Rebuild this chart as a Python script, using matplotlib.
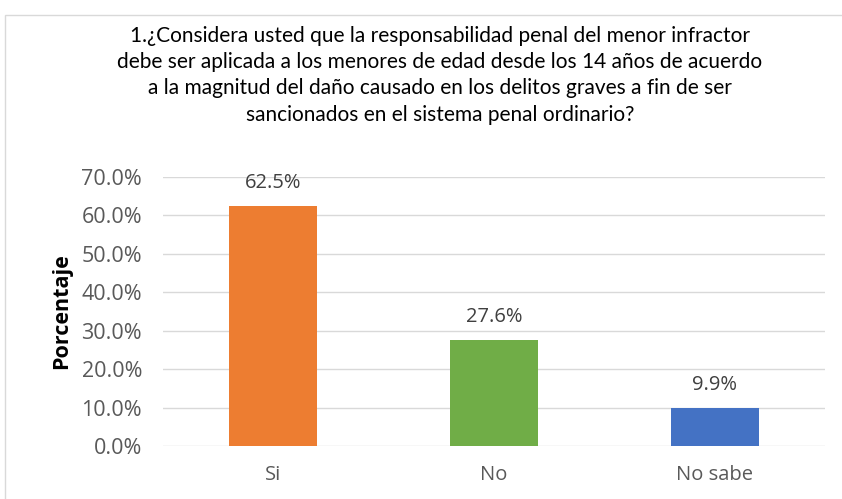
import matplotlib.pyplot as plt
from matplotlib.patches import Rectangle

categories = ["Si", "No", "No sabe"]
values = [62.5, 27.6, 9.9]
colors = ["#ED7D31", "#70AD47", "#4472C4"]
yticks = [0, 10, 20, 30, 40, 50, 60, 70]

title = ("1.¿Considera usted que la responsabilidad penal del menor infractor\n"
         "debe ser aplicada a los menores de edad desde los 14 años de acuerdo\n"
         "a la magnitud del daño causado en los delitos graves a fin de ser\n"
         "sancionados en el sistema penal ordinario?")

plt.rcParams['font.family'] = ['Open Sans', 'DejaVu Sans']

fig = plt.figure(figsize=(8.42, 4.99), dpi=100)
ax = fig.add_axes([163 / 842, 1 - 446 / 499, (825 - 163) / 842, (446 - 177) / 499])

ax.bar(range(len(categories)), values, width=0.4, color=colors, zorder=3)
for i, v in enumerate(values):
    ax.text(i, v + 6.0, f"{v:.1f}%", ha="center", va="center", fontsize=14.5, color="#404040")

ax.set_xlim(-0.5, len(categories) - 0.5)
ax.set_ylim(0, 70)
ax.set_yticks(yticks)
ax.set_yticklabels([f"{t:.1f}%" for t in yticks], fontsize=15.5, color="#595959")
ax.set_xticks(range(len(categories)))
ax.set_xticklabels(categories, fontsize=14.5, color="#595959")
ax.tick_params(length=0)
ax.tick_params(axis="y", pad=15)
ax.tick_params(axis="x", pad=14)
ax.grid(axis="y", color="#D9D9D9", linewidth=1, zorder=0)
for s in ax.spines.values():
    s.set_visible(False)

ax.set_ylabel("Porcentaje", fontsize=15.5, fontweight="bold", color="black")
ax.yaxis.set_label_coords((72 - 163) / 662, 0.5)

fig.text(440 / 842, 1 - 26 / 499, title, ha="center", va="top", fontsize=15,
         linespacing=1.39, color="black", family=["Lato", "DejaVu Sans"])

# outer chart frame
fig.patches.append(Rectangle((5 / 842, -0.1), 1.2, 1.1 - 15 / 499, transform=fig.transFigure,
                             fill=False, edgecolor="#D9D9D9", linewidth=1))

fig.savefig("out.png", dpi=100)
